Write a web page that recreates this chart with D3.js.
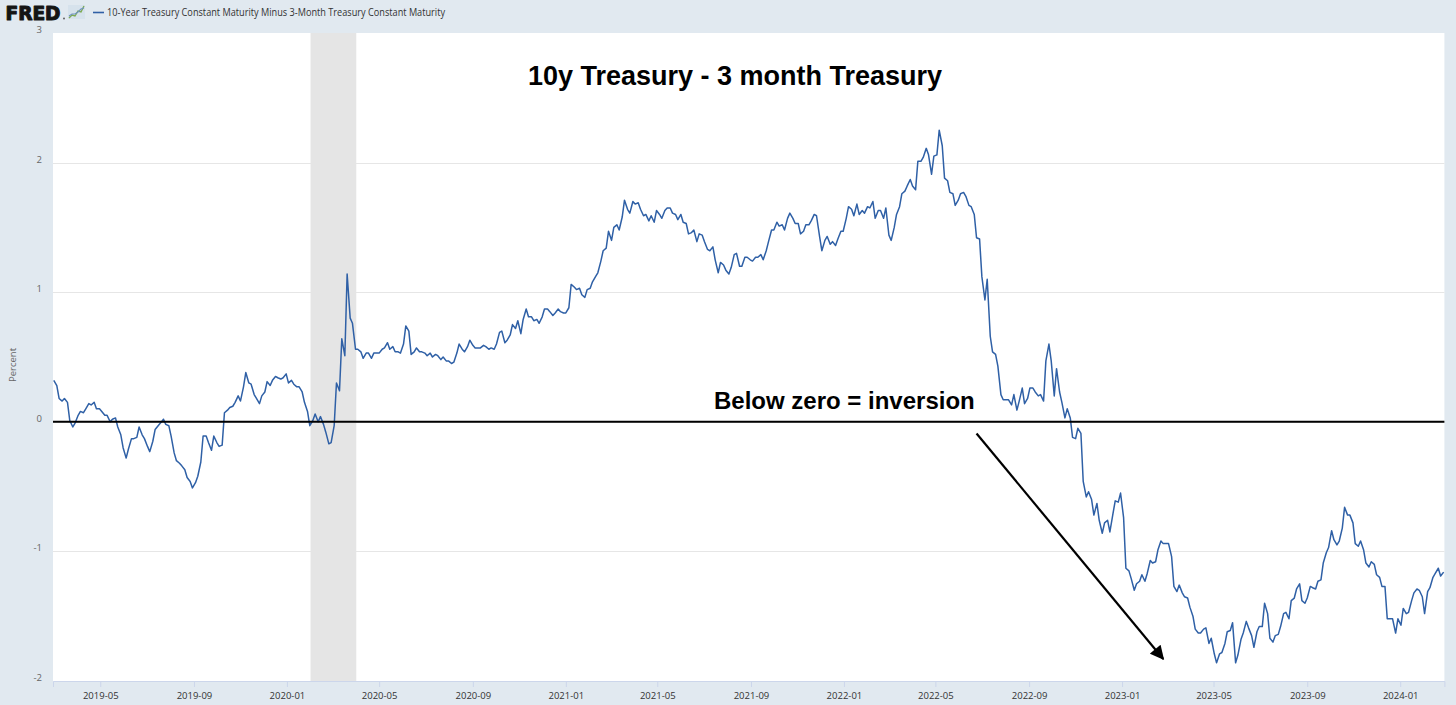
<!DOCTYPE html>
<html>
<head>
<meta charset="utf-8">
<script src="https://cdn.jsdelivr.net/npm/d3@7"></script>
<style>
html, body { margin: 0; padding: 0; background: #e1e9f0; }
svg { display: block; }
</style>
</head>
<body>
<svg id="chart" width="1456" height="705"></svg>
<script>
// ---- DATA: 10-Year minus 3-Month Treasury spread (percent), sampled twice weekly ----
const seriesStart = "2019-03-01";
const sampleStepDays = 3.5;

// Mar 2019 - Mar 2020
const spreadSeg1 = [
  0.32, 0.28, 0.18, 0.16, 0.18, 0.15, 0.01, -0.04, -0.01, 0.05,
  0.08, 0.07, 0.10, 0.14, 0.13, 0.15, 0.10, 0.10, 0.08, 0.05,
  0.05, 0.00, 0.02, 0.03, -0.04, -0.10, -0.20, -0.28, -0.21, -0.13,
  -0.13, -0.12, -0.04, -0.10, -0.13, -0.19, -0.23, -0.15, -0.06, -0.03,
  -0.01, 0.02, -0.02, -0.03, -0.11, -0.24, -0.30, -0.32, -0.34, -0.37,
  -0.43, -0.46, -0.51, -0.47, -0.42, -0.31, -0.11, -0.11, -0.16, -0.22,
  -0.11, -0.16, -0.19, -0.18, 0.07, 0.09, 0.11, 0.12, 0.15, 0.20,
  0.16, 0.27, 0.38, 0.30, 0.29, 0.21, 0.18, 0.14, 0.20, 0.23,
  0.31, 0.28, 0.32, 0.35, 0.34, 0.33, 0.34, 0.37, 0.30, 0.32,
  0.29, 0.27, 0.27, 0.23, 0.15, 0.08, -0.03, 0.01, 0.06, 0.00,
  0.04, -0.02, -0.08, -0.17, -0.16, -0.03, 0.30, 0.24, 0.64, 0.51,
  1.14, 0.80
];
// Mar 2020 - Mar 2021
const spreadSeg2 = [
  0.76, 0.56, 0.56, 0.54, 0.49, 0.53, 0.53, 0.49, 0.53, 0.53,
  0.53, 0.56, 0.57, 0.61, 0.56, 0.58, 0.54, 0.54, 0.53, 0.60,
  0.74, 0.70, 0.52, 0.54, 0.57, 0.54, 0.54, 0.53, 0.51, 0.53,
  0.50, 0.52, 0.51, 0.48, 0.50, 0.47, 0.47, 0.45, 0.46, 0.53,
  0.60, 0.56, 0.54, 0.58, 0.63, 0.59, 0.57, 0.57, 0.57, 0.59,
  0.58, 0.56, 0.57, 0.56, 0.60, 0.69, 0.70, 0.61, 0.63, 0.67,
  0.75, 0.72, 0.78, 0.68, 0.79, 0.87, 0.81, 0.81, 0.78, 0.79,
  0.76, 0.81, 0.87, 0.87, 0.85, 0.82, 0.84, 0.87, 0.85, 0.84,
  0.84, 0.88, 1.06, 1.04, 1.02, 1.03, 0.98, 0.96, 1.02, 1.03,
  1.08, 1.12, 1.15, 1.24, 1.32, 1.34, 1.47, 1.40, 1.50, 1.52,
  1.48, 1.58, 1.71, 1.64, 1.61
];
// Mar 2021 - Mar 2022
const spreadSeg3 = [
  1.70, 1.68, 1.69, 1.64, 1.59, 1.60, 1.55, 1.59, 1.54, 1.63,
  1.60, 1.57, 1.63, 1.65, 1.65, 1.61, 1.60, 1.56, 1.60, 1.54,
  1.53, 1.45, 1.46, 1.48, 1.39, 1.45, 1.44, 1.39, 1.33, 1.32,
  1.35, 1.25, 1.15, 1.23, 1.21, 1.17, 1.14, 1.19, 1.29, 1.30,
  1.20, 1.20, 1.27, 1.27, 1.25, 1.24, 1.27, 1.27, 1.29, 1.25,
  1.32, 1.39, 1.48, 1.48, 1.54, 1.51, 1.52, 1.48, 1.57, 1.61,
  1.57, 1.53, 1.53, 1.45, 1.47, 1.52, 1.52, 1.55, 1.60, 1.59,
  1.43, 1.32, 1.40, 1.43, 1.37, 1.39, 1.36, 1.41, 1.47, 1.47,
  1.57, 1.66, 1.64, 1.59, 1.68, 1.60, 1.63, 1.61, 1.66, 1.65,
  1.70, 1.57, 1.63, 1.63, 1.57, 1.65, 1.44, 1.40, 1.50, 1.60,
  1.66
];
// Mar 2022 - Oct 2022
const spreadSeg4 = [
  1.76, 1.78, 1.82, 1.87, 1.82, 1.79, 2.01, 2.01, 2.04, 2.11,
  2.06, 1.91, 2.05, 2.06, 2.25, 2.13, 1.88, 1.86, 1.77, 1.76,
  1.67, 1.71, 1.76, 1.77, 1.74, 1.67, 1.66, 1.60, 1.42, 1.41,
  1.12, 0.94, 1.10, 0.66, 0.54, 0.52, 0.43, 0.21, 0.17, 0.17,
  0.17, 0.13, 0.21, 0.09, 0.16, 0.26, 0.14, 0.18, 0.26, 0.26,
  0.23, 0.20, 0.21, 0.16, 0.47, 0.60, 0.47, 0.20, 0.41, 0.23,
  0.15, 0.03, 0.10, 0.03, -0.12
];
// Oct 2022 - Jul 2023
const spreadSeg5 = [
  -0.13, -0.05, -0.09, -0.46, -0.58, -0.54, -0.60, -0.72, -0.63, -0.76,
  -0.86, -0.78, -0.76, -0.85, -0.71, -0.61, -0.62, -0.55, -0.74, -1.13,
  -1.15, -1.21, -1.30, -1.25, -1.23, -1.18, -1.23, -1.17, -1.07, -1.09,
  -1.08, -0.99, -0.92, -0.94, -0.94, -0.94, -1.04, -1.27, -1.31, -1.26,
  -1.32, -1.35, -1.36, -1.43, -1.50, -1.60, -1.63, -1.63, -1.60, -1.59,
  -1.71, -1.67, -1.79, -1.86, -1.79, -1.78, -1.71, -1.62, -1.61, -1.55,
  -1.86, -1.80, -1.68, -1.63, -1.54, -1.59, -1.65, -1.74, -1.62, -1.58
];
// Jul 2023 - Feb 2024
const spreadSeg6 = [
  -1.58, -1.40, -1.48, -1.67, -1.70, -1.65, -1.64, -1.58, -1.48, -1.47,
  -1.52, -1.38, -1.36, -1.29, -1.25, -1.38, -1.40, -1.36, -1.27, -1.28,
  -1.29, -1.23, -1.22, -1.09, -1.01, -0.97, -0.84, -0.91, -0.95, -0.92,
  -0.82, -0.66, -0.72, -0.72, -0.78, -0.94, -0.96, -0.92, -0.99, -1.09,
  -1.12, -1.08, -1.10, -1.18, -1.20, -1.27, -1.27, -1.52, -1.52, -1.52,
  -1.63, -1.52, -1.57, -1.44, -1.48, -1.47, -1.38, -1.32, -1.29, -1.30,
  -1.35, -1.48, -1.31, -1.28, -1.20, -1.17, -1.13, -1.19, -1.16
];

const xDomain = ["2019-02-28", "2024-02-28"];
const yDomain = [-2, 3];
const xTickLabels = ["2019-05", "2019-09", "2020-01", "2020-05", "2020-09", "2021-01", "2021-05",
  "2021-09", "2022-01", "2022-05", "2022-09", "2023-01", "2023-05", "2023-09", "2024-01"];
const yTickValues = [-2, -1, 0, 1, 2, 3];
const recessionPeriod = ["2020-02-01", "2020-04-01"];
const seriesTitle = "10-Year Treasury Constant Maturity Minus 3-Month Treasury Constant Maturity";
const chartTitle = "10y Treasury - 3 month Treasury";
const zeroNote = "Below zero = inversion";
const arrowFrom = ["2022-06-24", -0.09];
const arrowTo = ["2023-02-24", -1.83];

// ---- BUILD ----
const parse = d3.utcParse("%Y-%m-%d");
const parseMonth = d3.utcParse("%Y-%m");
const values = [].concat(spreadSeg1, spreadSeg2, spreadSeg3, spreadSeg4, spreadSeg5, spreadSeg6);
const t0 = parse(seriesStart);
const data = values.map((v, i) => ({ date: d3.utcDay.offset(t0, Math.round(i * sampleStepDays)), value: v }));

const plot = { left: 53, right: 1444.4, top: 33, bottom: 681 };
const svg = d3.select("#chart");

const x = d3.scaleUtc().domain(xDomain.map(parse)).range([plot.left, plot.right]);
const y = d3.scaleLinear().domain(yDomain).range([plot.bottom, plot.top]);

// background
svg.append("rect").attr("width", 1456).attr("height", 705).attr("fill", "#e1e9f0");
svg.append("rect").attr("x", plot.left).attr("y", plot.top)
  .attr("width", plot.right - plot.left).attr("height", plot.bottom - plot.top).attr("fill", "#ffffff");

// gridlines
svg.append("g").selectAll("line").data(yTickValues.filter(d => d > yDomain[0] && d < yDomain[1]))
  .join("line")
  .attr("x1", plot.left).attr("x2", plot.right)
  .attr("y1", d => Math.round(y(d)) + 0.5).attr("y2", d => Math.round(y(d)) + 0.5)
  .attr("stroke", "#e6e6e6").attr("stroke-width", 1);

// recession shading
svg.append("rect")
  .attr("x", x(parse(recessionPeriod[0])))
  .attr("width", x(parse(recessionPeriod[1])) - x(parse(recessionPeriod[0])))
  .attr("y", plot.top).attr("height", plot.bottom - plot.top)
  .attr("fill", "#e5e5e5");

// x axis
const xAxis = d3.axisBottom(x)
  .tickValues(xTickLabels.map(parseMonth))
  .tickFormat(d3.utcFormat("%Y-%m"))
  .tickSize(6).tickPadding(5);
const gx = svg.append("g").attr("transform", `translate(0,${plot.bottom})`).call(xAxis);
gx.select(".domain").attr("stroke", "#ccd6eb");
gx.selectAll(".tick line").attr("stroke", "#ccd6eb");
gx.selectAll(".tick text").attr("fill", "#333333")
  .style("font-family", "'Open Sans', sans-serif").style("font-size", "9.5px");

// y labels (plain hyphen for negatives, as in the original)
const yAxis = d3.axisLeft(y).tickValues(yTickValues).tickFormat(d => String(d)).tickSize(0).tickPadding(0);
const gy = svg.append("g").attr("transform", `translate(${plot.left - 11},0)`).call(yAxis);
gy.select(".domain").remove();
gy.selectAll(".tick text").attr("fill", "#666666").attr("dy", "-0.05em")
  .style("font-family", "'Open Sans', sans-serif").style("font-size", "9.5px");

svg.append("text")
  .attr("transform", `translate(16,${(plot.top + plot.bottom) / 2 + 8}) rotate(-90)`)
  .attr("text-anchor", "middle")
  .attr("fill", "#666666")
  .style("font-family", "'Open Sans', sans-serif").style("font-size", "9.5px")
  .text("Percent");

// series line
const line = d3.line().x(d => x(d.date)).y(d => y(d.value));
svg.append("path").datum(data)
  .attr("fill", "none").attr("stroke", "#2f60a6").attr("stroke-width", 1.5)
  .attr("stroke-linejoin", "round")
  .attr("d", line);

// zero line annotation
svg.append("line")
  .attr("x1", plot.left).attr("x2", plot.right)
  .attr("y1", y(0)).attr("y2", y(0))
  .attr("stroke", "#000").attr("stroke-width", 2);

// header: FRED logo, icon, legend
svg.append("text").attr("x", 5.5).attr("y", 19.5)
  .style("font-family", "'DejaVu Sans', 'Liberation Sans', sans-serif").style("font-weight", "bold")
  .style("font-size", "19px").attr("fill", "#151515")
  .attr("stroke", "#151515").attr("stroke-width", 1.1).attr("stroke-linejoin", "round")
  .attr("textLength", 55).attr("lengthAdjust", "spacingAndGlyphs")
  .text("FRED");
svg.append("circle").attr("cx", 64).attr("cy", 18.5).attr("r", 0.9).attr("fill", "#555");
const icon = svg.append("g");
icon.append("rect").attr("x", 68).attr("y", 5).attr("width", 17).attr("height", 14).attr("fill", "#d6e2ec");
icon.append("polyline").attr("points", "69,18 72,15 75,16 78,11 81,12 84,6")
  .attr("fill", "none").attr("stroke", "#7eab55").attr("stroke-width", 1.4);
icon.append("polyline").attr("points", "69,16 72,14 75,14 78,12 81,9 84,8")
  .attr("fill", "none").attr("stroke", "#6f93c0").attr("stroke-width", 1.2);
svg.append("line").attr("x1", 93).attr("x2", 104).attr("y1", 12.5).attr("y2", 12.5)
  .attr("stroke", "#2f60a6").attr("stroke-width", 1.6);
svg.append("text").attr("x", 107).attr("y", 16)
  .style("font-family", "'Open Sans', sans-serif").style("font-size", "10px")
  .attr("fill", "#333333")
  .attr("textLength", 338).attr("lengthAdjust", "spacingAndGlyphs")
  .text(seriesTitle);

// annotations
svg.append("text").attr("x", 735).attr("y", 85).attr("text-anchor", "middle")
  .style("font-family", "'Liberation Sans', Arial, sans-serif").style("font-weight", "bold")
  .style("font-size", "27px").attr("fill", "#000")
  .text(chartTitle);

svg.append("text").attr("x", 714).attr("y", 409)
  .style("font-family", "'Liberation Sans', Arial, sans-serif").style("font-weight", "bold")
  .style("font-size", "24px").attr("fill", "#000")
  .text(zeroNote);

const defs = svg.append("defs");
defs.append("marker").attr("id", "arrowhead")
  .attr("viewBox", "0 0 10 10").attr("refX", 9).attr("refY", 5)
  .attr("markerUnits", "userSpaceOnUse").attr("markerWidth", 16).attr("markerHeight", 14)
  .attr("orient", "auto")
  .append("path").attr("d", "M0,0 L10,5 L0,10 Z").attr("fill", "#000");

svg.append("line")
  .attr("x1", x(parse(arrowFrom[0]))).attr("y1", y(arrowFrom[1]))
  .attr("x2", x(parse(arrowTo[0]))).attr("y2", y(arrowTo[1]))
  .attr("stroke", "#000").attr("stroke-width", 2.2)
  .attr("marker-end", "url(#arrowhead)");
</script>
</body>
</html>
